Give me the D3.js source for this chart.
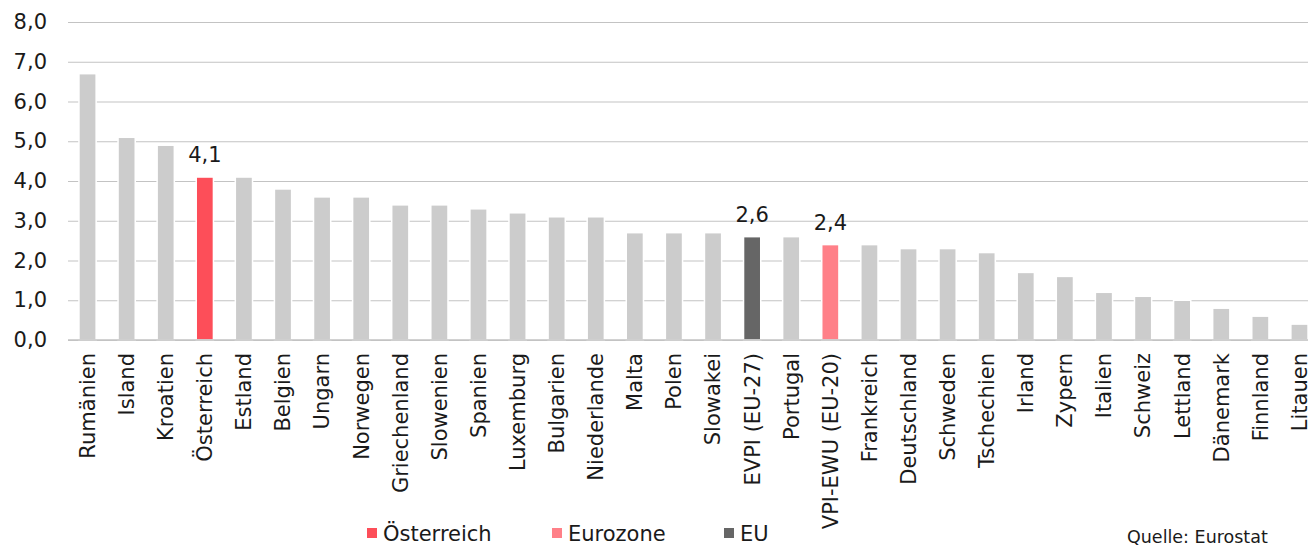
<!DOCTYPE html>
<html>
<head>
<meta charset="utf-8">
<script src="https://cdn.jsdelivr.net/npm/d3@7"></script>
<style>
  body { margin: 0; background: #fff; overflow: hidden; }
  svg { display: block; font-family: "DejaVu Sans", sans-serif; }
</style>
</head>
<body>
<div id="chart"></div>
<script>
// Chart data
var countries = ["Rumänien", "Island", "Kroatien", "Österreich", "Estland", "Belgien", "Ungarn",
  "Norwegen", "Griechenland", "Slowenien", "Spanien", "Luxemburg", "Bulgarien", "Niederlande",
  "Malta", "Polen", "Slowakei", "EVPI (EU-27)", "Portugal", "VPI-EWU (EU-20)", "Frankreich",
  "Deutschland", "Schweden", "Tschechien", "Irland", "Zypern", "Italien", "Schweiz", "Lettland",
  "Dänemark", "Finnland", "Litauen"];
var inflation = [6.7, 5.1, 4.9, 4.1, 4.1, 3.8, 3.6, 3.6, 3.4, 3.4, 3.3, 3.2, 3.1, 3.1,
  2.7, 2.7, 2.7, 2.6, 2.6, 2.4, 2.4, 2.3, 2.3, 2.2, 1.7, 1.6, 1.2, 1.1, 1.0, 0.8, 0.6, 0.4];
var highlighted = ["Österreich", "VPI-EWU (EU-20)", "EVPI (EU-27)"];
var legendLabels = ["Österreich", "Eurozone", "EU"];
var yTicks = [0, 1, 2, 3, 4, 5, 6, 7, 8];

var colorFor = {
  "Österreich": "#fd4e59",
  "VPI-EWU (EU-20)": "#ff8088",
  "EVPI (EU-27)": "#666666"
};
var legendColors = ["#fd4e59", "#ff8088", "#666666"];

var svgWidth = 1308;
var svgHeight = 545;

var chartMargin = { top: 22, left: 68 };
var plotRight = 1319;
var plotBottom = 340;

var svg = d3.select("#chart")
  .append("svg")
  .attr("width", svgWidth)
  .attr("height", svgHeight);

var xScale = d3.scaleBand()
  .domain(countries)
  .range([chartMargin.left, plotRight])
  .padding(0);

var yScale = d3.scaleLinear()
  .domain([0, 8])
  .range([plotBottom, chartMargin.top]);

// gridlines + y labels
var yAxis = d3.axisLeft(yScale)
  .tickValues(yTicks)
  .tickSize(-(plotRight - chartMargin.left))
  .tickPadding(21)
  .tickFormat(d => d3.format(".1f")(d).replace(".", ","));

var yGroup = svg.append("g")
  .attr("transform", `translate(${chartMargin.left}, 0)`)
  .call(yAxis);
yGroup.select(".domain").remove();
yGroup.selectAll("line")
  .attr("stroke", "#c3c3c3")
  .attr("stroke-width", 1.2);
yGroup.selectAll("text")
  .attr("font-size", 21)
  .attr("fill", "#1a1a1a")
  .attr("font-family", "DejaVu Sans, sans-serif");

// bars
var barW = xScale.bandwidth() * 0.44;
svg.append("g").selectAll("rect")
  .data(countries)
  .enter()
  .append("rect")
  .attr("x", d => xScale(d) + xScale.bandwidth() / 2 - barW / 2)
  .attr("y", (d, i) => yScale(inflation[i]))
  .attr("width", barW)
  .attr("height", (d, i) => yScale(0) - yScale(inflation[i]))
  .attr("fill", d => colorFor[d] || "#cccccc")
  .attr("stroke", "#ffffff")
  .attr("stroke-width", 1.5);

// baseline on top
svg.append("line")
  .attr("x1", chartMargin.left)
  .attr("x2", plotRight)
  .attr("y1", yScale(0))
  .attr("y2", yScale(0))
  .attr("stroke", "#c3c3c3")
  .attr("stroke-width", 1.5);

// value labels for highlighted bars
svg.append("g").selectAll("text")
  .data(highlighted)
  .enter()
  .append("text")
  .attr("x", d => xScale(d) + xScale.bandwidth() / 2)
  .attr("y", d => yScale(inflation[countries.indexOf(d)]) - 15)
  .attr("text-anchor", "middle")
  .attr("font-size", 21)
  .attr("fill", "#1a1a1a")
  .text(d => d3.format(".1f")(inflation[countries.indexOf(d)]).replace(".", ","));

// category labels rotated
svg.append("g").selectAll("text")
  .data(countries)
  .enter()
  .append("text")
  .attr("transform", d => `translate(${xScale(d) + xScale.bandwidth() / 2}, ${plotBottom + 13}) rotate(-90)`)
  .attr("text-anchor", "end")
  .attr("dy", "0.35em")
  .attr("font-size", 21)
  .attr("fill", "#1a1a1a")
  .text(d => d);

// legend
var legendX = [367, 552, 724];
var legend = svg.append("g");
legendLabels.forEach(function(lbl, i) {
  legend.append("rect")
    .attr("x", legendX[i])
    .attr("y", 528)
    .attr("width", 10)
    .attr("height", 10)
    .attr("fill", legendColors[i]);
  legend.append("text")
    .attr("x", legendX[i] + 16)
    .attr("y", 541)
    .attr("font-size", 21)
    .attr("fill", "#1a1a1a")
    .text(lbl);
});

// source
svg.append("text")
  .attr("x", 1127)
  .attr("y", 543)
  .attr("font-size", 17.5)
  .attr("fill", "#1a1a1a")
  .text("Quelle: Eurostat");
</script>
</body>
</html>
